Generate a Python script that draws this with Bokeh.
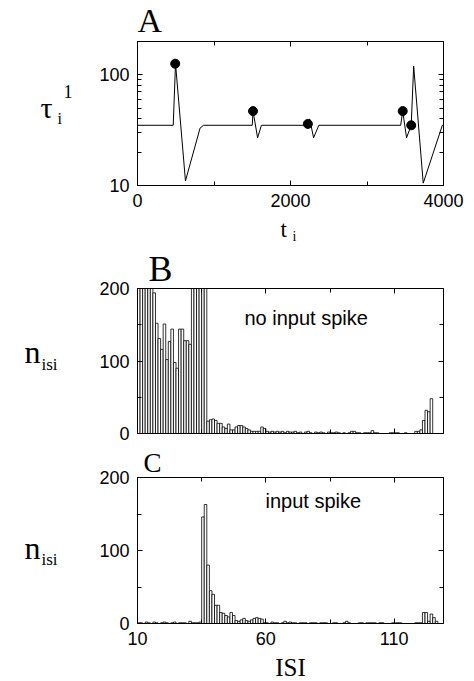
from bokeh.plotting import figure
from bokeh.models import (Range1d, FixedTicker, LinearAxis, LogAxis, Label,
                          PrintfTickFormatter, Title)
from bokeh.layouts import column, row
from bokeh.core.properties import value
from bokeh.embed import file_html
from bokeh.resources import INLINE

# ---------------- data ----------------
# Panel A: tau_i^1 versus t_i
t_values = [0, 467, 497, 627, 818, 863, 1500, 1510, 1570, 1620, 2220, 2231, 2250,
            2302, 2370, 3440, 3467, 3517, 3578, 3610, 3735, 3985, 4000]
tau_values = [35, 35, 126, 11, 33, 35, 35, 47, 27, 35, 35, 36, 40,
              27, 35, 35, 47, 27, 35, 120, 10.5, 35, 35]
spike_t = [493, 1510, 2227, 3467, 3578]
spike_tau = [126, 47, 36, 47, 35]

# Panels B, C: ISI histograms, bins of width 1 starting at ISI = 10 .. 128
isi_left = list(range(10, 129))
counts_no_input = (
    [240, 240, 240, 240, 240, 240] +
    [194, 152, 131, 116, 151, 102, 127, 144, 98, 90, 144, 144, 128, 128, 123] +
    [240, 240, 240, 240, 240, 240] +
    [17, 19, 20, 18, 14, 14, 9, 7, 13, 5, 5, 9, 11, 11, 9, 7, 5, 3, 3, 3, 3, 9, 7] +
    [3, 2, 3, 2, 3, 2, 3, 1, 3, 2, 2, 3, 1, 2, 0, 2, 3, 1, 0, 2, 1] +
    [2, 1, 0, 2, 1, 1, 2, 1, 0, 1, 0, 1, 3, 3, 1, 1, 0, 1, 1, 1,
     4, 1, 1, 0, 0, 0, 0, 1, 1, 1, 1, 0, 0, 1, 0, 0, 0, 3, 3, 5] +
    [18, 32, 30, 48, 0, 0, 0, 0]
)
counts_input = (
    [1, 1, 0, 2, 1, 0, 2, 1, 0, 1, 2, 1, 0, 1, 2, 0, 1, 1, 1, 0, 3, 1, 1, 1, 2] +
    [146, 163, 80, 45, 40, 25, 25, 15, 14, 11, 9, 15, 11, 4, 3, 5, 7, 4, 3, 5, 7, 8, 7, 6] +
    [1, 1, 0, 2, 1, 1, 0, 1, 3, 1, 2, 1, 1, 0, 1, 1, 1, 0, 1, 1, 1, 0, 1, 1, 1, 0,
     0, 1, 1, 0, 0, 1, 3, 1, 0, 0, 0, 1, 1, 0, 1, 1, 1, 1, 0, 1, 1, 0, 0, 0, 1, 1,
     1, 1, 0, 0, 0, 0, 0, 1, 1, 1] +
    [15, 15, 3, 13, 8, 3, 0, 0]
)

a_xticks = [0, 2000, 4000]
a_xminor = [1000, 3000]
a_yticks = [10, 100]
a_yminor = [20, 30, 40, 50, 60, 70, 80, 90, 200]
h_xticks = [10, 60, 110]
h_xminor = [35, 85]
h_yticks = [0, 100, 200]
h_yminor = [50, 150]

SERIF = "Liberation Serif"
SANS = "Liberation Sans"
LEFT_W = 78
RW = 396
FRAME_LEFT = 59
FRAME_W = 306
FRAME_RIGHT = RW - FRAME_LEFT - FRAME_W
FX = LEFT_W + FRAME_LEFT   # page x of the frames' left edge
MID = 0.34                 # baseline -> em-box centre, in em


def style_axis(ax, ticks, minor, labels=True):
    ax.ticker = FixedTicker(ticks=ticks, minor_ticks=minor)
    ax.formatter = PrintfTickFormatter(format="%d")
    ax.major_tick_in = 5
    ax.major_tick_out = 0
    ax.minor_tick_in = 4
    ax.minor_tick_out = 0
    ax.axis_line_color = "black"
    ax.major_tick_line_color = "black"
    ax.minor_tick_line_color = "black"
    ax.major_label_text_font = SANS
    if labels:
        ax.major_label_text_color = "black"
        ax.major_label_text_font_size = "18px"
        ax.major_label_standoff = 8
    else:
        ax.major_label_text_color = None
        ax.major_label_text_font_size = "1px"
        ax.major_label_standoff = 0


def make_fig(height, top, frame_h, **kw):
    p = figure(width=RW, height=height, output_backend="svg", toolbar_location=None,
               title=None,
               min_border_left=FRAME_LEFT, min_border_right=FRAME_RIGHT,
               min_border_top=top, min_border_bottom=height - top - frame_h,
               outline_line_color="black", background_fill_color="white",
               border_fill_color="white", **kw)
    p.xgrid.visible = False
    p.ygrid.visible = False
    return p


def text_fig(width, height, bl, br):
    p = figure(width=width, height=height, output_backend="svg", toolbar_location=None,
               title=None,
               x_range=Range1d(0, width - bl - br), y_range=Range1d(height, 0),
               min_border_left=bl, min_border_right=br, min_border_top=0, min_border_bottom=0,
               outline_line_color=None,
               x_axis_location=None, y_axis_location=None,
               background_fill_color="white", border_fill_color="white")
    p.xgrid.visible = False
    p.ygrid.visible = False
    return p


def put(p, text, x, baseline, size, font=SERIF, align="left"):
    centre = baseline - MID * size
    p.text(x=[x], y=[centre], text=[text], text_font=value(font),
           text_font_size=value(f"{size}px"), text_baseline="middle", text_align=align,
           text_color="black")


def inner_label(p, text, x, baseline_from_bottom, size):
    p.add_layout(Label(x=x, y=baseline_from_bottom + MID * size, x_units="screen",
                       y_units="screen", text=text, text_font=SANS,
                       text_font_size=f"{size}px", text_baseline="middle",
                       text_align="left", text_color="black"))


# ---------------- text strips (x measured from FX, y from the strip's top) ----------------
T1, T2, T4 = 0, 216, 652
t1 = text_fig(RW, 40, FRAME_LEFT, FRAME_RIGHT)          # page y 0-40
put(t1, "A", 137 - FX, 31.6 - T1, 34)

t2 = text_fig(RW, 28, FRAME_LEFT, FRAME_RIGHT)          # page y 216-244
put(t2, "t", 280 - FX, 237.2 - T2, 23)
put(t2, "i", 292 - FX, 241 - T2, 14)

t4 = text_fig(RW, 29, FRAME_LEFT, FRAME_RIGHT)          # page y 652-681
put(t4, "ISI", 290 - FX, 675 - T4, 25, align="center")

left = text_fig(LEFT_W, 681, 0, 0)                     # page x 0-78
put(left, "τ", 40, 117, 30)
put(left, "i", 57, 123, 16)
put(left, "1", 63, 97, 18)
put(left, "n", 24, 362, 32)
put(left, "isi", 41, 370, 17)
put(left, "n", 24, 558, 32)
put(left, "isi", 41, 565, 17)

# ---------------- Panel A (page y 40-216, frame 41-185) ----------------
pa = make_fig(176, 1, 144, y_axis_type="log",
              x_range=Range1d(0, 4000), y_range=Range1d(10, 200))
pa.line(t_values, tau_values, line_color="black", line_width=1)
pa.scatter(spike_t, spike_tau, size=9, color="black")
style_axis(pa.xaxis[0], a_xticks, a_xminor)
style_axis(pa.yaxis[0], a_yticks, a_yminor)
top_a = LinearAxis()
style_axis(top_a, a_xticks, a_xminor, labels=False)
pa.add_layout(top_a, "above")
right_a = LogAxis()
style_axis(right_a, a_yticks, a_yminor, labels=False)
pa.add_layout(right_a, "right")


# ---------------- Panels B and C ----------------
def hist_panel(height, top, frame_h, counts, text, tx, tbase, show_xlabels,
               letter, letter_offset, letter_size):
    p = make_fig(height, top, frame_h, x_range=Range1d(10, 129.2), y_range=Range1d(0, 200))
    rights = [e + 1 for e in isi_left]
    bottoms = [0] * len(isi_left)
    p.quad(left=isi_left, right=rights, bottom=bottoms, top=counts,
           fill_color="white", line_color="black", line_width=0.8)
    style_axis(p.xaxis[0], h_xticks, h_xminor, labels=show_xlabels)
    style_axis(p.yaxis[0], h_yticks, h_yminor)
    ta = LinearAxis()
    style_axis(ta, h_xticks, h_xminor, labels=False)
    p.add_layout(ta, "above")
    ra = LinearAxis()
    style_axis(ra, h_yticks, h_yminor, labels=False)
    p.add_layout(ra, "right")
    p.add_layout(Title(text=letter, align="left", offset=letter_offset, standoff=0,
                       text_font=SERIF, text_font_size=f"{letter_size}px",
                       text_font_style="normal", text_color="black"), "above")
    inner_label(p, text, tx, tbase, 20)
    return p


# B: page y 244-443, frame 288-433 ; C: page y 443-652, frame 477-623
pb = hist_panel(199, 44, 145, counts_no_input, "no input spike", 244 - FX, 433 - 324, False,
                "B", 148 - FX, 36)
pc = hist_panel(209, 34, 146, counts_input, "input spike", 265 - FX, 623 - 507, True,
                "C", 143 - FX, 27)

right = column(t1, pa, t2, pb, pc, t4, spacing=0)
layout = row(left, right, spacing=0)
open("out.html", "w").write(file_html(layout, INLINE))
